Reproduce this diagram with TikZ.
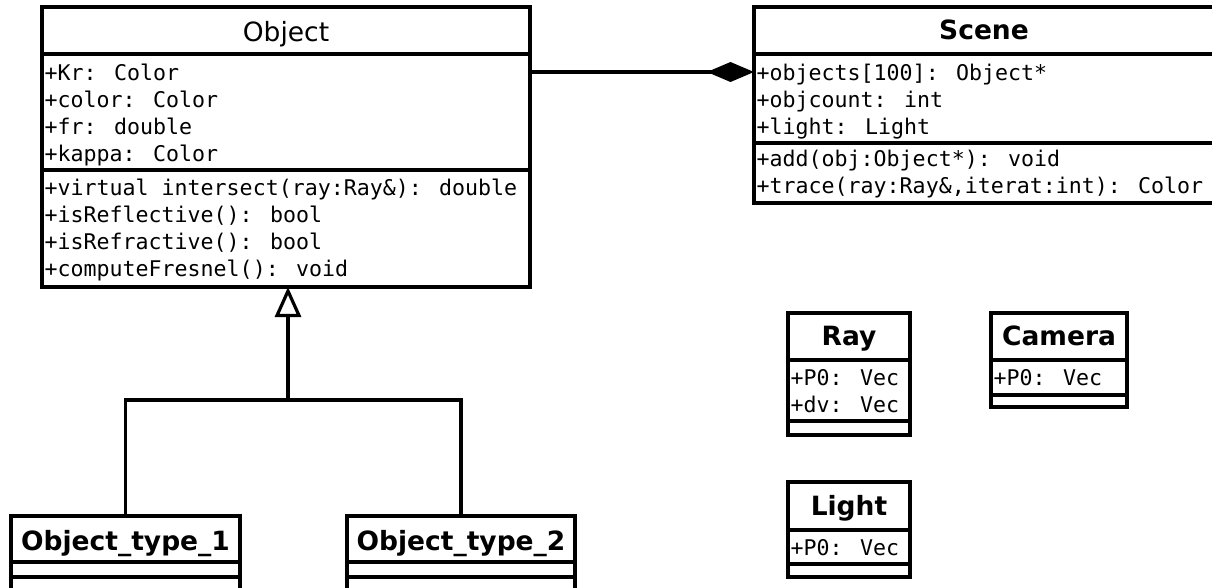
\documentclass[tikz,border=0pt]{standalone}
\usepackage{fontspec}
\setmainfont{DejaVu Sans}
\newfontfamily\monofont{DejaVu Sans Mono}
\usetikzlibrary{arrows.meta}
\begin{document}
\begin{tikzpicture}[x=1pt,y=-1pt,
  box/.style={draw,line width=3.2pt,inner sep=0pt,outer sep=0pt,anchor=north west},
  sep/.style={line width=3.2pt},
  conn/.style={line width=3.2pt},
  ttl/.style={font=\fontsize{26.5}{30}\selectfont\bfseries,anchor=base,inner sep=0pt},
  ttlreg/.style={font=\fontsize{26.5}{30}\selectfont,anchor=base,inner sep=0pt},
  attr/.style={font=\monofont\fontsize{21.6}{27}\selectfont,anchor=base west,inner sep=0pt},
]
\useasboundingbox (0,0) rectangle (1212,587);

% ---------- Object ----------
\node[box,minimum width=488pt,minimum height=280pt] (obj) at (42,7) {};
\draw[sep] (42,54) -- (530,54);
\draw[sep] (42,170) -- (530,170);
\node[ttlreg] (objT) at (286,41) {Object};
\node[attr] (oa1) at (44.5,80) {+Kr: Color};
\node[attr] (oa2) at (44.5,107) {+color: Color};
\node[attr] (oa3) at (44.5,134) {+fr: double};
\node[attr] (oa4) at (44.5,161) {+kappa: Color};
\node[attr] (om1) at (44.5,195) {+virtual intersect(ray:Ray\&): double};
\node[attr] (om2) at (44.5,222) {+isReflective(): bool};
\node[attr] (om3) at (44.5,249) {+isRefractive(): bool};
\node[attr] (om4) at (44.5,276) {+computeFresnel(): void};

% ---------- Scene ----------
\node[box,minimum width=470pt,minimum height=196pt] (scene) at (754,7) {};
\draw[sep] (754,54) -- (1224,54);
\draw[sep] (754,143) -- (1224,143);
\node[ttl] (sceneT) at (984,39) {Scene};
\node[attr] (sa1) at (756.5,80) {+objects[100]: Object*};
\node[attr] (sa2) at (756.5,107) {+objcount: int};
\node[attr] (sa3) at (756.5,134) {+light: Light};
\node[attr] (sm1) at (756.5,166) {+add(obj:Object*): void};
\node[attr] (sm2) at (756.5,193) {+trace(ray:Ray\&,iterat:int): Color};

% ---------- Ray ----------
\node[box,minimum width=122pt,minimum height=122pt] (ray) at (788,313) {};
\draw[sep] (788,360) -- (910,360);
\draw[sep] (788,421) -- (910,421);
\node[ttl] (rayT) at (849,345) {Ray};
\node[attr] (ra1) at (790.5,385) {+P0: Vec};
\node[attr] (ra2) at (790.5,412) {+dv: Vec};

% ---------- Camera ----------
\node[box,minimum width=136pt,minimum height=94pt] (cam) at (991,313) {};
\draw[sep] (991,360) -- (1127,360);
\draw[sep] (991,395) -- (1127,395);
\node[ttl] (camT) at (1059,345) {Camera};
\node[attr] (ca1) at (993.5,385) {+P0: Vec};

% ---------- Light ----------
\node[box,minimum width=122pt,minimum height=95pt] (light) at (788,482) {};
\draw[sep] (788,530) -- (910,530);
\draw[sep] (788,564) -- (910,564);
\node[ttl] (lightT) at (849,515) {Light};
\node[attr] (la1) at (790.5,555) {+P0: Vec};

% ---------- Object_type_1 / 2 ----------
\node[box,minimum width=229pt,minimum height=100pt] (t1) at (11,516) {};
\draw[sep] (11,562) -- (240,562);
\draw[sep] (11,577) -- (240,577);
\node[ttl] (t1T) at (125.5,550) {Object\_type\_1};

\node[box,minimum width=228pt,minimum height=100pt] (t2) at (347,516) {};
\draw[sep] (347,562) -- (575,562);
\draw[sep] (347,577) -- (575,577);
\node[ttl] (t2T) at (461,550) {Object\_type\_2};

% ---------- connectors ----------
\coordinate (objR) at (530,72);
\draw[conn,-{Diamond[length=47pt,width=20pt]}] (objR) -- (scene.west |- objR);

\coordinate (j) at (288,400);
\draw[conn] (t1.north) |- (j) -| (t2.north);
\draw[conn,-{Triangle[open,length=30pt,width=26pt,fill=white]}] (j) -- (j |- obj.south);
\end{tikzpicture}
\end{document}
